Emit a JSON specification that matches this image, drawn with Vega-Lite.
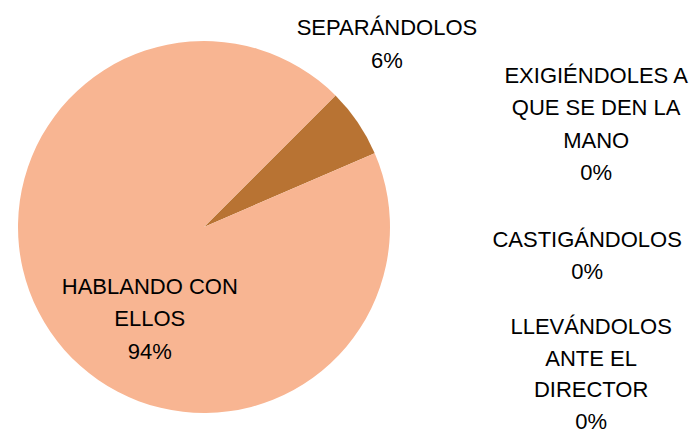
{
  "$schema": "https://vega.github.io/schema/vega-lite/v6.json",
  "width": 408,
  "height": 416,
  "autosize": {"type": "none"},
  "padding": {"left": 0, "top": 19, "right": 283, "bottom": 0},
  "background": "white",
  "config": {"view": {"stroke": null}},
  "data": {
    "values": [
      {"categoria": "SEPARÁNDOLOS", "etiqueta": "SEPARÁNDOLOS\n6%", "valor": 6, "orden": 1},
      {"categoria": "EXIGIÉNDOLES A QUE SE DEN LA MANO", "etiqueta": "EXIGIÉNDOLES A\nQUE SE DEN LA\nMANO\n0%", "valor": 0, "orden": 2},
      {"categoria": "CASTIGÁNDOLOS", "etiqueta": "CASTIGÁNDOLOS\n0%", "valor": 0, "orden": 3},
      {"categoria": "LLEVÁNDOLOS ANTE EL DIRECTOR", "etiqueta": "LLEVÁNDOLOS\nANTE EL\nDIRECTOR\n0%", "valor": 0, "orden": 4},
      {"categoria": "HABLANDO CON ELLOS", "etiqueta": "HABLANDO CON\nELLOS\n94%", "valor": 94, "orden": 5}
    ]
  },
  "encoding": {
    "theta": {"field": "valor", "type": "quantitative", "stack": true, "scale": {"range": [0.7854, 7.0686]}},
    "order": {"field": "orden", "type": "quantitative"}
  },
  "layer": [
    {
      "mark": {"type": "arc", "outerRadius": 186},
      "encoding": {
        "color": {
          "field": "categoria",
          "type": "nominal",
          "legend": null,
          "scale": {
            "domain": ["SEPARÁNDOLOS", "EXIGIÉNDOLES A QUE SE DEN LA MANO", "CASTIGÁNDOLOS", "LLEVÁNDOLOS ANTE EL DIRECTOR", "HABLANDO CON ELLOS"],
            "range": ["#B87333", "#A5A5A5", "#FFC000", "#5B9BD5", "#F8B592"]
          }
        }
      }
    },
    {
      "transform": [{"filter": "datum.orden == 1"}],
      "mark": {"type": "text", "radius": 220, "dx": 1, "dy": -75, "align": "center", "baseline": "middle", "font": "Liberation Sans", "fontSize": 22, "lineHeight": 32.5, "lineBreak": "\n", "color": "black"},
      "encoding": {"text": {"field": "etiqueta"}}
    },
    {
      "transform": [{"filter": "datum.orden == 2"}],
      "mark": {"type": "text", "radius": 300, "dx": 180, "dy": 61, "align": "center", "baseline": "middle", "font": "Liberation Sans", "fontSize": 22, "lineHeight": 32.5, "lineBreak": "\n", "color": "black"},
      "encoding": {"text": {"field": "etiqueta"}}
    },
    {
      "transform": [{"filter": "datum.orden == 3"}],
      "mark": {"type": "text", "radius": 300, "dx": 171, "dy": 225, "align": "center", "baseline": "middle", "font": "Liberation Sans", "fontSize": 22, "lineHeight": 32.5, "lineBreak": "\n", "color": "black"},
      "encoding": {"text": {"field": "etiqueta"}}
    },
    {
      "transform": [{"filter": "datum.orden == 4"}],
      "mark": {"type": "text", "radius": 300, "dx": 175, "dy": 312, "align": "center", "baseline": "middle", "font": "Liberation Sans", "fontSize": 22, "lineHeight": 31.8, "lineBreak": "\n", "color": "black"},
      "encoding": {"text": {"field": "etiqueta"}}
    },
    {
      "transform": [{"filter": "datum.orden == 5"}],
      "mark": {"type": "text", "radius": 100, "dx": 2, "dy": -23, "align": "center", "baseline": "middle", "font": "Liberation Sans", "fontSize": 22, "lineHeight": 32.5, "lineBreak": "\n", "color": "black"},
      "encoding": {"text": {"field": "etiqueta"}}
    }
  ]
}
